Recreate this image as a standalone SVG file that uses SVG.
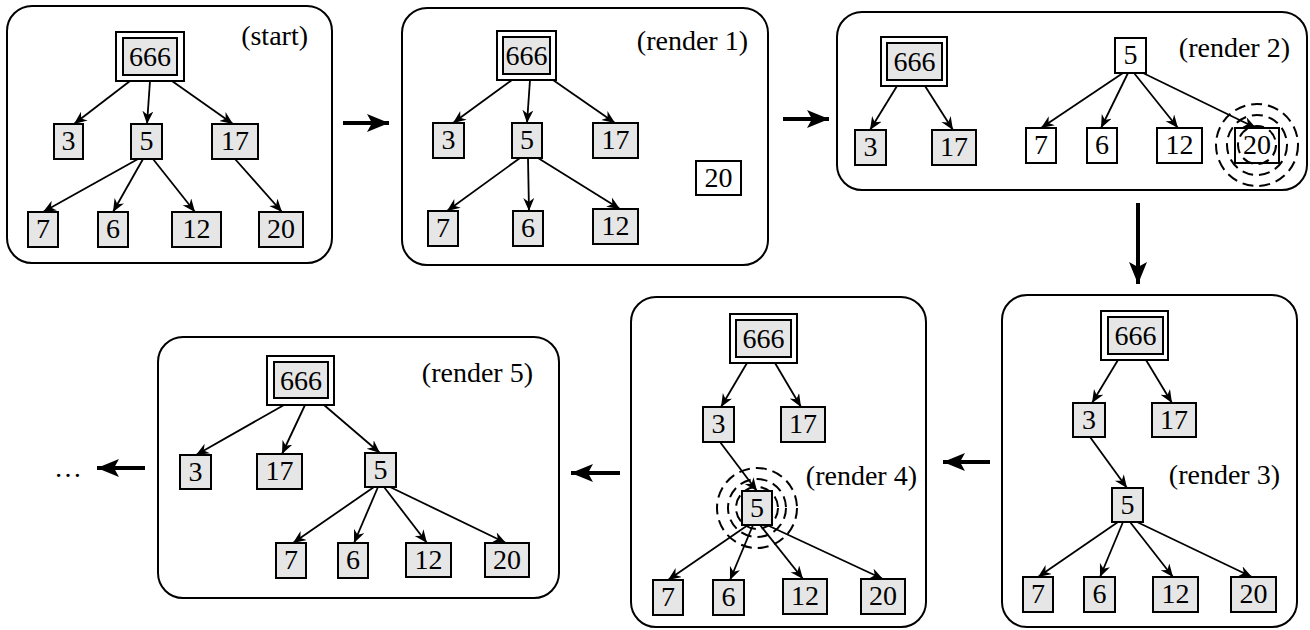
<svg xmlns="http://www.w3.org/2000/svg" width="1310" height="630" viewBox="0 0 1310 630">
<defs>
<style>
.panel{fill:#fff;stroke:#000;stroke-width:2}
.g{fill:#e6e6e6;stroke:#000;stroke-width:2}
.w{fill:#fff;stroke:#000;stroke-width:2}
.t{font-family:"Liberation Serif","Times New Roman",serif;font-size:28px;fill:#000;text-anchor:middle}
.lbl{font-family:"Liberation Serif","Times New Roman",serif;font-size:28px;fill:#000;text-anchor:end}
.e{stroke:#000;stroke-width:1.8;fill:none;marker-end:url(#ah)}
.big{stroke:#000;stroke-width:4;fill:none;marker-end:url(#bh)}
.ring{fill:none;stroke:#000;stroke-width:2;stroke-dasharray:11 6}
</style>
<marker id="ah" markerUnits="userSpaceOnUse" markerWidth="16" markerHeight="12" refX="13" refY="5.5" orient="auto">
<path d="M0,0 L13,5.5 L0,11 L4,5.5 z" fill="#000"/>
</marker>
<marker id="bh" markerUnits="userSpaceOnUse" markerWidth="24" markerHeight="20" refX="22" refY="9" orient="auto">
<path d="M0,0 L22,9 L0,18 L5,9 z" fill="#000"/>
</marker>
</defs>

<g id="panel-start">
<rect class="panel" x="7" y="6" width="325" height="257" rx="25"/>
<text class="lbl" x="308" y="45">(start)</text>
<g id="p1-666"><rect class="w" x="116" y="32" width="68" height="49"/><rect class="g" x="123" y="38" width="54" height="37"/><text class="t" x="150" y="66">666</text></g>
<g id="p1-3"><rect class="g" x="54" y="124" width="29" height="35"/><text class="t" x="68.5" y="150">3</text></g>
<g id="p1-5"><rect class="g" x="131" y="124" width="31" height="35"/><text class="t" x="146.5" y="150">5</text></g>
<g id="p1-17"><rect class="g" x="212" y="124" width="46" height="35"/><text class="t" x="235" y="150">17</text></g>
<g id="p1-7"><rect class="g" x="28" y="212" width="30" height="35"/><text class="t" x="43" y="238">7</text></g>
<g id="p1-6"><rect class="g" x="98" y="212" width="30" height="35"/><text class="t" x="113" y="238">6</text></g>
<g id="p1-12"><rect class="g" x="172" y="212" width="49" height="35"/><text class="t" x="196.5" y="238">12</text></g>
<g id="p1-20"><rect class="g" x="259" y="212" width="44" height="35"/><text class="t" x="281" y="238">20</text></g>
</g>

<g id="panel-render1">
<rect class="panel" x="402" y="8" width="366" height="257" rx="25"/>
<text class="lbl" x="748" y="50">(render 1)</text>
<g id="p2-666"><rect class="w" x="497" y="31" width="59" height="49"/><rect class="g" x="503" y="37" width="47" height="37"/><text class="t" x="526.5" y="65">666</text></g>
<g id="p2-3"><rect class="g" x="433" y="123" width="31" height="35"/><text class="t" x="448.5" y="149">3</text></g>
<g id="p2-5"><rect class="g" x="512" y="123" width="30" height="35"/><text class="t" x="527" y="149">5</text></g>
<g id="p2-17"><rect class="g" x="593" y="123" width="45" height="35"/><text class="t" x="615.5" y="149">17</text></g>
<g id="p2-20"><rect class="w" x="696" y="161" width="45" height="34"/><text class="t" x="718.5" y="187">20</text></g>
<g id="p2-7"><rect class="g" x="428" y="211" width="30" height="35"/><text class="t" x="443" y="237">7</text></g>
<g id="p2-6"><rect class="g" x="513" y="211" width="30" height="35"/><text class="t" x="528" y="237">6</text></g>
<g id="p2-12"><rect class="g" x="593" y="209" width="45" height="35"/><text class="t" x="615.5" y="235">12</text></g>
</g>

<g id="panel-render2">
<rect class="panel" x="837" y="12" width="470" height="178" rx="25"/>
<text class="lbl" x="1290" y="57">(render 2)</text>
<g id="p3-666"><rect class="w" x="881" y="37" width="66" height="49"/><rect class="g" x="887" y="43" width="55" height="37"/><text class="t" x="914.5" y="71">666</text></g>
<g id="p3-3"><rect class="g" x="855" y="130" width="31" height="35"/><text class="t" x="870.5" y="156">3</text></g>
<g id="p3-17"><rect class="g" x="932" y="130" width="44" height="35"/><text class="t" x="954" y="156">17</text></g>
<g id="p3-5"><rect class="w" x="1115" y="38" width="31" height="35"/><text class="t" x="1130.5" y="64">5</text></g>
<g id="p3-7"><rect class="w" x="1026" y="128" width="30" height="35"/><text class="t" x="1041" y="154">7</text></g>
<g id="p3-6"><rect class="w" x="1087" y="128" width="30" height="35"/><text class="t" x="1102" y="154">6</text></g>
<g id="p3-12"><rect class="w" x="1157" y="128" width="45" height="35"/><text class="t" x="1179.5" y="154">12</text></g>
<g id="p3-20"><rect class="w" x="1235" y="128" width="44" height="35"/><text class="t" x="1257" y="154">20</text>
<circle class="ring" cx="1257" cy="145" r="19"/><circle class="ring" cx="1257" cy="145" r="30"/><circle class="ring" cx="1257" cy="145" r="41"/></g>
</g>

<g id="panel-render3">
<rect class="panel" x="1002" y="295" width="295" height="332" rx="25"/>
<text class="lbl" x="1280" y="484">(render 3)</text>
<g id="p4-666"><rect class="w" x="1101" y="311" width="67" height="49"/><rect class="g" x="1108" y="317" width="55" height="37"/><text class="t" x="1135.5" y="345">666</text></g>
<g id="p4-3"><rect class="g" x="1073" y="403" width="32" height="34"/><text class="t" x="1089" y="429">3</text></g>
<g id="p4-17"><rect class="g" x="1152" y="403" width="44" height="34"/><text class="t" x="1174" y="429">17</text></g>
<g id="p4-5"><rect class="g" x="1112" y="488" width="31" height="34"/><text class="t" x="1127.5" y="514">5</text></g>
<g id="p4-7"><rect class="g" x="1023" y="577" width="30" height="35"/><text class="t" x="1038" y="603">7</text></g>
<g id="p4-6"><rect class="g" x="1084" y="577" width="31" height="35"/><text class="t" x="1099.5" y="603">6</text></g>
<g id="p4-12"><rect class="g" x="1153" y="577" width="45" height="35"/><text class="t" x="1175.5" y="603">12</text></g>
<g id="p4-20"><rect class="g" x="1231" y="577" width="45" height="35"/><text class="t" x="1253.5" y="603">20</text></g>
</g>

<g id="panel-render4">
<rect class="panel" x="631" y="297" width="295" height="330" rx="25"/>
<text class="lbl" x="917" y="485">(render 4)</text>
<g id="p5-666"><rect class="w" x="730" y="314" width="67" height="49"/><rect class="g" x="736" y="320" width="55" height="37"/><text class="t" x="763.5" y="348">666</text></g>
<g id="p5-3"><rect class="g" x="703" y="407" width="31" height="35"/><text class="t" x="718.5" y="433">3</text></g>
<g id="p5-17"><rect class="g" x="781" y="407" width="44" height="35"/><text class="t" x="803" y="433">17</text></g>
<g id="p5-5"><circle class="ring" cx="757" cy="508" r="21"/><circle class="ring" cx="757" cy="508" r="29"/><circle class="ring" cx="757" cy="508" r="40"/>
<rect class="g" x="742" y="491" width="30" height="34"/><text class="t" x="757" y="517">5</text></g>
<g id="p5-7"><rect class="g" x="653" y="580" width="30" height="35"/><text class="t" x="668" y="606">7</text></g>
<g id="p5-6"><rect class="g" x="713" y="580" width="31" height="35"/><text class="t" x="728.5" y="606">6</text></g>
<g id="p5-12"><rect class="g" x="783" y="579" width="44" height="35"/><text class="t" x="805" y="605">12</text></g>
<g id="p5-20"><rect class="g" x="861" y="579" width="44" height="35"/><text class="t" x="883" y="605">20</text></g>
</g>

<g id="panel-render5">
<rect class="panel" x="158" y="337" width="401" height="261" rx="25"/>
<text class="lbl" x="533" y="382">(render 5)</text>
<g id="p6-666"><rect class="w" x="267" y="356" width="67" height="49"/><rect class="g" x="274" y="362" width="54" height="36"/><text class="t" x="301" y="390">666</text></g>
<g id="p6-3"><rect class="g" x="180" y="455" width="31" height="34"/><text class="t" x="195.5" y="481">3</text></g>
<g id="p6-17"><rect class="g" x="257" y="454" width="45" height="35"/><text class="t" x="279.5" y="480">17</text></g>
<g id="p6-5"><rect class="g" x="365" y="453" width="31" height="34"/><text class="t" x="380.5" y="479">5</text></g>
<g id="p6-7"><rect class="g" x="276" y="543" width="30" height="35"/><text class="t" x="291" y="569">7</text></g>
<g id="p6-6"><rect class="g" x="338" y="543" width="30" height="35"/><text class="t" x="353" y="569">6</text></g>
<g id="p6-12"><rect class="g" x="406" y="543" width="45" height="34"/><text class="t" x="428.5" y="569">12</text></g>
<g id="p6-20"><rect class="g" x="485" y="543" width="44" height="34"/><text class="t" x="507" y="569">20</text></g>
</g>

<g id="ellipsis"><text class="t" x="68" y="477">…</text></g>

<g id="connectors">
<line class="e" x1="130" y1="81" x2="74" y2="124"/>
<line class="e" x1="150" y1="81" x2="147" y2="124"/>
<line class="e" x1="172" y1="81" x2="233" y2="124"/>
<line class="e" x1="138" y1="159" x2="43" y2="212"/>
<line class="e" x1="143" y1="159" x2="113" y2="212"/>
<line class="e" x1="153" y1="159" x2="195" y2="212"/>
<line class="e" x1="235" y1="159" x2="282" y2="212"/>

<line class="e" x1="512" y1="80" x2="453" y2="123"/>
<line class="e" x1="530" y1="80" x2="527" y2="123"/>
<line class="e" x1="553" y1="80" x2="615" y2="123"/>
<line class="e" x1="520" y1="158" x2="447" y2="211"/>
<line class="e" x1="528" y1="158" x2="529" y2="211"/>
<line class="e" x1="538" y1="158" x2="620" y2="209"/>

<line class="e" x1="897" y1="86" x2="870" y2="130"/>
<line class="e" x1="925" y1="86" x2="953" y2="130"/>
<line class="e" x1="1123" y1="73" x2="1041" y2="128"/>
<line class="e" x1="1128" y1="73" x2="1101" y2="128"/>
<line class="e" x1="1134" y1="73" x2="1178" y2="128"/>
<line class="e" x1="1143" y1="73" x2="1256" y2="128"/>

<line class="e" x1="1118" y1="360" x2="1092" y2="403"/>
<line class="e" x1="1146" y1="360" x2="1172" y2="403"/>
<line class="e" x1="1090" y1="437" x2="1127" y2="488"/>
<line class="e" x1="1118" y1="522" x2="1038" y2="577"/>
<line class="e" x1="1123" y1="522" x2="1100" y2="577"/>
<line class="e" x1="1130" y1="522" x2="1173" y2="577"/>
<line class="e" x1="1137" y1="522" x2="1252" y2="577"/>

<line class="e" x1="747" y1="363" x2="721" y2="407"/>
<line class="e" x1="775" y1="363" x2="801" y2="407"/>
<line class="e" x1="720" y1="442" x2="757" y2="491"/>
<line class="e" x1="748" y1="525" x2="668" y2="580"/>
<line class="e" x1="753" y1="525" x2="730" y2="580"/>
<line class="e" x1="760" y1="525" x2="803" y2="579"/>
<line class="e" x1="767" y1="525" x2="883" y2="579"/>

<line class="e" x1="284" y1="405" x2="196" y2="455"/>
<line class="e" x1="305" y1="405" x2="282" y2="454"/>
<line class="e" x1="324" y1="405" x2="380" y2="453"/>
<line class="e" x1="374" y1="487" x2="293" y2="543"/>
<line class="e" x1="378" y1="487" x2="354" y2="543"/>
<line class="e" x1="384" y1="487" x2="427" y2="543"/>
<line class="e" x1="390" y1="487" x2="506" y2="543"/>

<line class="big" x1="343" y1="123" x2="389" y2="123"/>
<line class="big" x1="783" y1="119" x2="829" y2="119"/>
<line class="big" x1="1138" y1="203" x2="1138" y2="284"/>
<line class="big" x1="990" y1="462" x2="943" y2="462"/>
<line class="big" x1="620" y1="473" x2="571" y2="473"/>
<line class="big" x1="145" y1="468" x2="97" y2="468"/>
</g>
</svg>
